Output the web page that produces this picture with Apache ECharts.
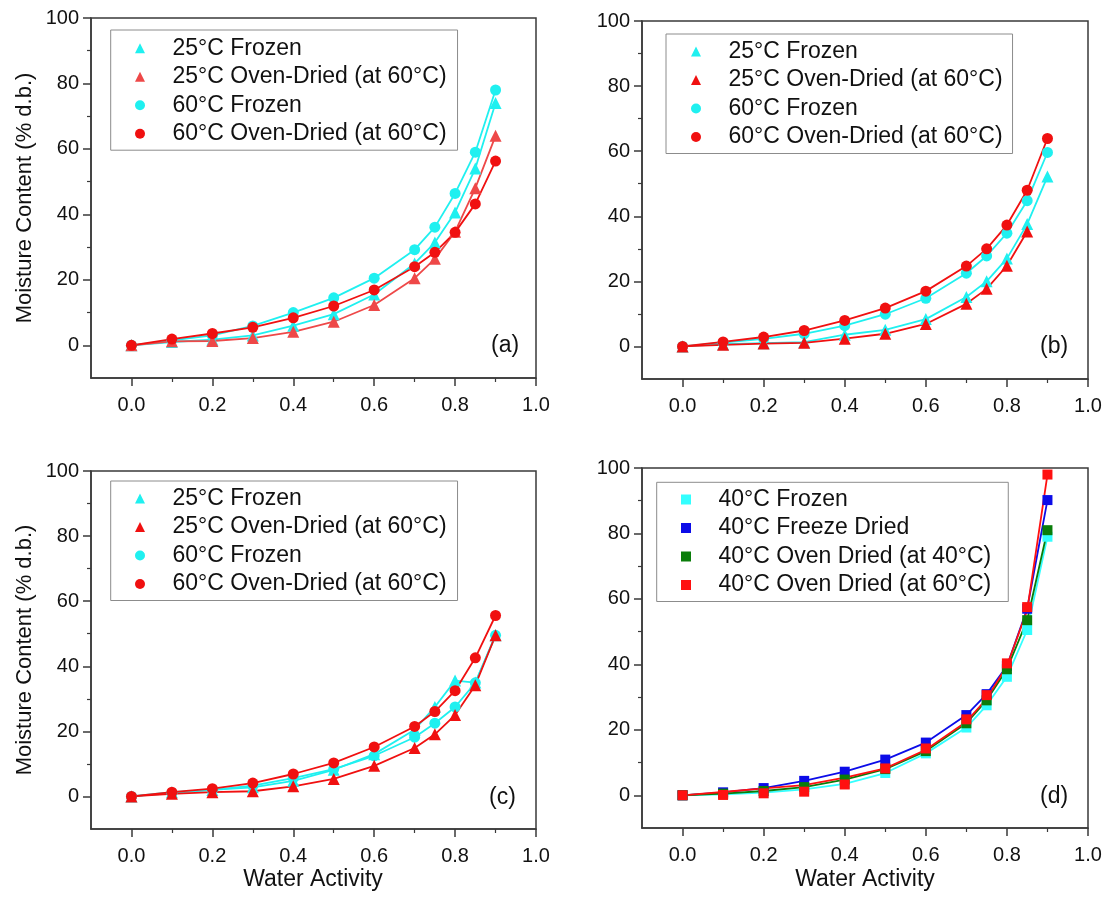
<!DOCTYPE html>
<html>
<head>
<meta charset="utf-8">
<title>Moisture sorption isotherms</title>
<script src="https://cdn.jsdelivr.net/npm/echarts@6/dist/echarts.min.js"></script>
<style>
    html, body { margin: 0; padding: 0; background: #fff; }
    #chart { width: 1110px; height: 903px; }
</style>
</head>
<body>
<div id="chart"></div>
<script>
// water activity values shared by every panel
var aw = [0, 0.1, 0.2, 0.3, 0.4, 0.5, 0.6, 0.7, 0.75, 0.8, 0.85, 0.9];
var xTicks = [0, 0.2, 0.4, 0.6, 0.8, 1.0];
var xMinor = [0.1, 0.3, 0.5, 0.7, 0.9];
var yTicks = [0, 20, 40, 60, 80, 100];
var yMinor = [10, 30, 50, 70, 90];

var namesABC = ['25°C Frozen', '25°C Oven-Dried (at 60°C)', '60°C Frozen', '60°C Oven-Dried (at 60°C)'];
var namesD = ['40°C Frozen', '40°C Freeze Dried', '40°C Oven Dried (at 40°C)', '40°C Oven Dried (at 60°C)'];
var panelLabels = ['(a)', '(b)', '(c)', '(d)'];

// (a)
var a25Frozen = [0, 1.0, 1.7, 3.0, 6.0, 9.5, 15.5, 25.0, 31.4, 40.6, 54.0, 74.0];
var a25Oven = [0, 1.2, 1.3, 2.2, 4.1, 7.2, 12.3, 20.5, 26.4, 34.7, 48.0, 64.0];
var a60Frozen = [0, 1.5, 3.0, 5.9, 10.0, 14.5, 20.5, 29.2, 36.1, 46.4, 59.0, 78.0];
var a60Oven = [0, 1.9, 3.6, 5.5, 8.4, 12.0, 16.9, 24.0, 28.4, 34.5, 43.2, 56.3];

// (b)
var b25Frozen = [0, 0.7, 1.0, 1.3, 3.6, 5.1, 8.4, 15.2, 20.0, 27.0, 37.6, 52.2];
var b25Oven = [0, 0.5, 0.9, 1.1, 2.4, 3.9, 6.9, 13.1, 17.7, 24.8, 35.3];
var b60Frozen = [0, 1.2, 2.3, 3.9, 6.4, 9.9, 14.8, 22.5, 27.8, 34.8, 44.8, 59.6];
var b60Oven = [0, 1.4, 2.9, 4.9, 8.0, 11.8, 17.0, 24.7, 30.0, 37.3, 48.0, 63.9];

// (c)
var c25Frozen = [0, 1.3, 2.0, 2.8, 4.8, 8.2, 13.0, 20.5, 27.5, 35.6, 35.0, 49.5];
var c25Oven = [0, 0.8, 1.3, 1.6, 3.1, 5.4, 9.4, 14.9, 19.1, 25.0, 34.2, 49.5];
var c60Frozen = [0, 1.0, 2.0, 3.3, 5.6, 8.4, 12.5, 18.2, 22.5, 27.5, 34.9, 49.5];
var c60Oven = [0, 1.3, 2.4, 4.1, 6.9, 10.3, 15.2, 21.5, 26.1, 32.5, 42.6, 55.6];

// (d)
var d40Frozen = [0, 0.3, 0.8, 1.8, 3.5, 6.8, 12.8, 20.7, 27.5, 36.2, 50.5, 79.0];
var d40FreezeDried = [0, 0.9, 2.2, 4.4, 7.2, 10.9, 16.1, 24.5, 30.9, 39.5, 57.0, 90.2];
var d40Oven40 = [0, 0.5, 1.3, 2.5, 4.8, 8.0, 13.5, 22.0, 29.0, 38.5, 53.5, 81.0];
var d40Oven60 = [0, 0.1, 0.6, 1.1, 3.3, 8.2, 14.3, 23.2, 30.6, 40.3, 57.5, 98.0];
var d40Oven60Fit = [0, 1.0, 2.1, 3.1, 5.4, 8.2, 13.9, 22.5, 29.5, 39.5, 56.5, 98.0];

var FONT = 'Liberation Sans, Arial, sans-serif';
var AXIS = '#3a3a3a';
var CYAN = '#1ff0f0';
var RED = '#f01010';

// grid boxes: left, top, width, height
var grids = [
    { left: 91, top: 18, width: 445, height: 360 },
    { left: 642, top: 21, width: 446, height: 358 },
    { left: 91, top: 471, width: 445, height: 358 },
    { left: 642, top: 468, width: 446, height: 360 }
];
var AX_PER_GRID = 3;

function toPoints(ys) {
    var out = [];
    for (var i = 0; i < ys.length; i++) {
        out.push([aw[i], ys[i]]);
    }
    return out;
}

var series = [];
var lineSeries = [];

// one curve: a plain line plus the scatter markers on top
function addCurve(gi, name, ys, color, symbol, size, fitYs) {
    lineSeries.push({
        type: 'line',
        xAxisIndex: gi * AX_PER_GRID,
        yAxisIndex: gi * AX_PER_GRID,
        data: toPoints(fitYs || ys),
        symbol: 'none',
        silent: true,
        lineStyle: { color: color, width: 1.8 },
        z: 2
    });
    series.push({
        type: 'scatter',
        name: name,
        xAxisIndex: gi * AX_PER_GRID,
        yAxisIndex: gi * AX_PER_GRID,
        data: toPoints(ys),
        symbol: symbol,
        symbolSize: size,
        itemStyle: { color: color, opacity: 1 },
        z: 3
    });
}

addCurve(0, namesABC[0], a25Frozen, CYAN, 'triangle', 12);
addCurve(0, namesABC[2], a60Frozen, CYAN, 'circle', 11);
addCurve(0, namesABC[1], a25Oven, '#ee4848', 'triangle', 12);
addCurve(0, namesABC[3], a60Oven, RED, 'circle', 11);

addCurve(1, namesABC[0], b25Frozen, CYAN, 'triangle', 12);
addCurve(1, namesABC[2], b60Frozen, CYAN, 'circle', 11);
addCurve(1, namesABC[1], b25Oven, RED, 'triangle', 12);
addCurve(1, namesABC[3], b60Oven, RED, 'circle', 11);

addCurve(2, namesABC[0], c25Frozen, CYAN, 'triangle', 12);
addCurve(2, namesABC[2], c60Frozen, CYAN, 'circle', 11);
addCurve(2, namesABC[1], c25Oven, RED, 'triangle', 12);
addCurve(2, namesABC[3], c60Oven, RED, 'circle', 11);

addCurve(3, namesD[0], d40Frozen, '#33ffff', 'rect', 10);
addCurve(3, namesD[1], d40FreezeDried, '#0c0ce8', 'rect', 10);
addCurve(3, namesD[2], d40Oven40, '#0a7d0a', 'rect', 10);
addCurve(3, namesD[3], d40Oven60, '#ff1010', 'rect', 10, d40Oven60Fit);

// an axis that only draws ticks at the given values
function tickAxis(g, dim, values, len, width) {
    return {
        gridIndex: g, type: 'value',
        position: dim === 'x' ? 'bottom' : 'left',
        min: dim === 'x' ? -0.1 : -10,
        max: dim === 'x' ? 1.0 : 100,
        axisLine: { show: false, onZero: false },
        axisTick: { show: true, inside: false, length: len, customValues: values, lineStyle: { color: AXIS, width: width } },
        axisLabel: { show: false },
        splitLine: { show: false }
    };
}

var xAxes = [];
var yAxes = [];
for (var g = 0; g < 4; g++) {
    xAxes.push({
        gridIndex: g, type: 'value', position: 'bottom', min: -0.1, max: 1.0,
        axisLine: { show: true, onZero: false, lineStyle: { color: AXIS, width: 1.5 } },
        axisTick: { show: false },
        axisLabel: {
            customValues: xTicks, margin: 17, fontSize: 20, fontFamily: FONT, color: '#111',
            formatter: function (v) { return v.toFixed(1); }
        },
        splitLine: { show: false }
    });
    xAxes.push(tickAxis(g, 'x', xTicks, 8, 1.5));
    xAxes.push(tickAxis(g, 'x', xMinor, 4, 1.2));
    yAxes.push({
        gridIndex: g, type: 'value', position: 'left', min: -10, max: 100,
        axisLine: { show: true, onZero: false, lineStyle: { color: AXIS, width: 1.5 } },
        axisTick: { show: false },
        axisLabel: { customValues: yTicks, margin: 12, fontSize: 20, fontFamily: FONT, color: '#111' },
        splitLine: { show: false }
    });
    yAxes.push(tickAxis(g, 'y', yTicks, 8, 1.5));
    yAxes.push(tickAxis(g, 'y', yMinor, 4, 1.2));
}

var gridOpts = grids.map(function (b) {
    return {
        left: b.left, top: b.top, width: b.width, height: b.height,
        show: true, borderColor: AXIS, borderWidth: 1.5, backgroundColor: 'transparent'
    };
});

// legend: small symbol, text pushed right with padding
function makeLegend(names, icons, colors, left, top, pad) {
    var items = [];
    for (var i = 0; i < names.length; i++) {
        items.push({ name: names[i], icon: icons[i], itemStyle: { color: colors[i] } });
    }
    return {
        orient: 'vertical', left: left, top: top, padding: pad,
        itemWidth: 10, itemHeight: 10, itemGap: 5.5,
        selectedMode: false,
        borderColor: '#8c8c8c', borderWidth: 1, borderRadius: 0,
        backgroundColor: '#fff',
        textStyle: { fontSize: 23, lineHeight: 22, color: '#111', fontFamily: FONT, padding: [0, 0, 0, 22.5] },
        data: items
    };
}

var iconsABC = ['triangle', 'triangle', 'circle', 'circle'];
var legends = [
    makeLegend(namesABC, iconsABC, [CYAN, '#ee4848', CYAN, RED], 110.7, 30, [6.7, 11, 5, 24.3]),
    makeLegend(namesABC, iconsABC, [CYAN, RED, CYAN, RED], 666, 34, [6, 10, 5, 25]),
    makeLegend(namesABC, iconsABC, [CYAN, RED, CYAN, RED], 110.7, 481, [6, 11, 5, 24.3]),
    makeLegend(namesD, ['rect', 'rect', 'rect', 'rect'], ['#33ffff', '#0c0ce8', '#0a7d0a', '#ff1010'], 656.7, 482.3, [5.7, 17, 5, 24.3])
];

// axis titles and panel letters
var graphics = [
    { type: 'text', x: 25, y: 198, rotation: Math.PI / 2,
      style: { text: 'Moisture Content (% d.b.)', font: '22px ' + FONT, fill: '#111', align: 'center', verticalAlign: 'middle' } },
    { type: 'text', x: 25, y: 650, rotation: Math.PI / 2,
      style: { text: 'Moisture Content (% d.b.)', font: '22px ' + FONT, fill: '#111', align: 'center', verticalAlign: 'middle' } },
    { type: 'text', x: 313, y: 880,
      style: { text: 'Water Activity', font: '23px ' + FONT, fill: '#111', align: 'center', verticalAlign: 'middle' } },
    { type: 'text', x: 865, y: 880,
      style: { text: 'Water Activity', font: '23px ' + FONT, fill: '#111', align: 'center', verticalAlign: 'middle' } }
];
var letterPos = [[491, 346], [1040, 346.5], [489, 798], [1040, 796.5]];
for (var k = 0; k < 4; k++) {
    graphics.push({
        type: 'text', x: letterPos[k][0], y: letterPos[k][1],
        style: { text: panelLabels[k], font: '23px ' + FONT, fill: '#111', align: 'left', verticalAlign: 'middle' }
    });
}

var myChart = echarts.init(document.getElementById('chart'), null, { renderer: 'canvas' });
myChart.setOption({
    animation: false,
    backgroundColor: '#fff',
    grid: gridOpts,
    xAxis: xAxes,
    yAxis: yAxes,
    legend: legends,
    graphic: graphics,
    series: lineSeries.concat(series)
});
</script>
</body>
</html>
